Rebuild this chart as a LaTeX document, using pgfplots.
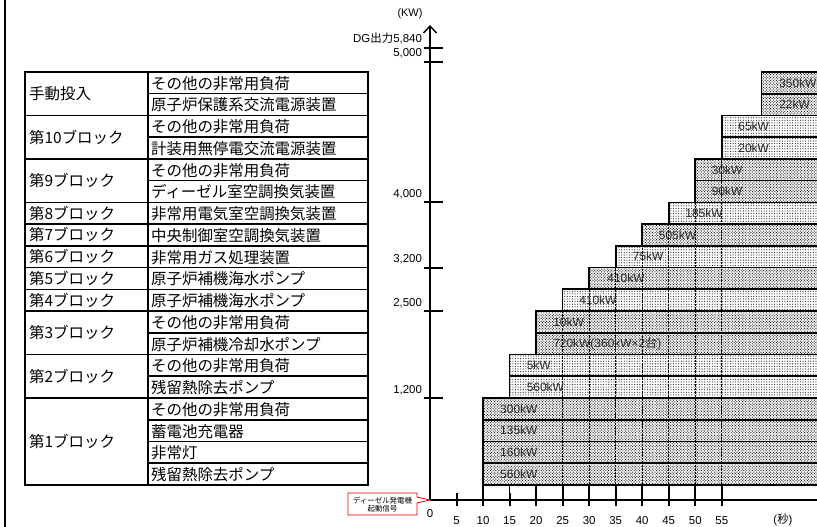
\documentclass[border=0pt]{standalone}
\usepackage{fontspec}
\setmainfont{Liberation Sans}
\newfontfamily\jp{Noto Sans CJK JP}
\usepackage{pgfplots}
\pgfplotsset{compat=1.18}
\usetikzlibrary{patterns.meta,arrows.meta}
\definecolor{callred}{RGB}{230,0,0}
\begin{document}
\begin{tikzpicture}
\pgfplotsset{base/.style={scale only axis,
  width=387bp, height=475bp, xmin=0, xmax=72.95, ymin=-0.191, ymax=21.66}}
% ---------- bars ----------
\begin{axis}[base, axis lines=none, xbar stacked, bar width=1, xtick=\empty, ytick=\empty]
\addplot[draw=none, fill=none] coordinates {(10,1) (10,2) (10,3) (10,4) (15,5) (15,6) (20,7) (20,8) (25,9) (30,10) (35,11) (40,12) (45,13) (50,14) (50,15) (55,16) (55,17) (62.5,18) (62.5,19)};
\addplot[draw=black, line width=1.7bp, pattern={Dots[distance=2pt,radius=0.7pt,angle=45]}, pattern color=black!85]
 coordinates {(70,1) (70,2) (70,3) (70,4) (0,5) (0,6) (60,7) (60,8) (0,9) (50,10) (0,11) (40,12) (0,13) (30,14) (30,15) (0,16) (0,17) (17.5,18) (17.5,19)};
\addplot[draw=black, line width=1.7bp, pattern={Dots[distance=2.6pt,radius=0.6pt]}, pattern color=black!85]
 coordinates {(0,1) (0,2) (0,3) (0,4) (65,5) (65,6) (0,7) (0,8) (55,9) (0,10) (45,11) (0,12) (35,13) (0,14) (0,15) (25,16) (25,17) (0,18) (0,19)};
\end{axis}
% ---------- axes, lines, labels ----------
\begin{axis}[base, clip mode=individual, axis lines=left,
  axis line style={line width=2.2bp, black},
  x axis line style={-},
  y axis line style={-{Straight Barb[length=7bp,width=13bp,line width=1.4bp]}},
  /pgf/number format/assume math mode=true,
  tick align=center, major tick length=13bp, tick style={line width=2bp, black},
  xtick={5,10,...,55}, xticklabels={5,10,15,20,25,30,35,40,45,50,55},
  extra x ticks={0}, extra x tick labels={0}, extra x tick style={major tick length=0pt},
  xticklabel style={font=\fontsize{11.5}{12}\selectfont, anchor=base, yshift=-18bp},
  ytick=\empty,
  extra y ticks={4.5,8.5,10.5,13.5,19.96,20.61},
  extra y tick labels={{1,200},{2,500},{3,200},{4,000},{5,000},{DG{\jp 出力}5,840}},
  extra y tick style={major tick length=19bp, tick style={xshift=3.5bp},
     yticklabel style={anchor=base east, yshift=5bp, xshift=5bp, font=\fontsize{11.5}{12}\selectfont}},
  ]
\addplot[line width=1.8bp, black, unbounded coords=jump, forget plot] coordinates {
 (10,-0.33) (10,0.5) (nan,nan) (15,-0.33) (15,0.5) (nan,nan) (20,-0.33) (20,0.5) (nan,nan)
 (25,-0.33) (25,0.5) (nan,nan) (30,-0.33) (30,0.5) (nan,nan) (35,-0.33) (35,0.5) (nan,nan)
 (40,-0.33) (40,0.5) (nan,nan) (45,-0.33) (45,0.5) (nan,nan) (50,-0.33) (50,0.5) (nan,nan)
 (55,-0.33) (55,0.5)};
\addplot[line width=1.3bp, black, dash pattern=on 2.5bp off 1bp, unbounded coords=jump, forget plot] coordinates {
 (25,0.5) (25,8.5) (nan,nan) (30,0.5) (30,9.5) (nan,nan) (35,0.5) (35,10.5) (nan,nan)
 (40,0.5) (40,11.5) (nan,nan) (45,0.5) (45,12.5) (nan,nan) (50,0.5) (50,13.5) (nan,nan)
 (55,0.5) (55,15.5)};
\addplot[draw=none, mark=none, nodes near coords, point meta=explicit symbolic,
  nodes near coords align=horizontal,
  every node near coord/.append style={anchor=west, inner sep=0pt, font=\fontsize{12}{12}\selectfont, text=black!85}]
 coordinates {(13.2,1) [560kW] (13.2,2) [160kW] (13.2,3) [135kW] (13.2,4) [300kW]
  (18.2,5) [560kW] (18.2,6) [5kW] (23.2,7) [720kW(360kW×2{\jp 台})] (23.2,8) [10kW]
  (28.1,9) [410kW] (33.4,10) [410kW] (38.2,11) [75kW] (43.1,12) [505kW] (48.1,13) [185kW]
  (53.1,14) [90kW] (53.1,15) [30kW] (58.1,16) [20kW] (58.1,17) [65kW]
  (65.8,18) [22kW] (65.8,19) [350kW]};
\end{axis}
\begin{scope}[x=1bp, y=1bp, shift={(-430bp,-27bp)}]
% ---------- frame line ----------
\draw[line width=2bp] (5,0) -- (5,527);
% ---------- table ----------
\begin{scope}[line width=1.6bp]
 \draw (25,42) rectangle (368,455.06);
 \draw (148,42) -- (148,455.06);
 \foreach \k in {4,6,8,9,10,11,12,13,15,17} \draw (25,{42+21.74*\k}) -- (368,{42+21.74*\k});
 \foreach \k in {1,2,3,5,7,14,16,18} \draw (148,{42+21.74*\k}) -- (368,{42+21.74*\k});
\end{scope}
\foreach \k/\t in {1/残留熱除去ポンプ,2/非常灯,3/蓄電池充電器,4/その他の非常用負荷,5/残留熱除去ポンプ,6/その他の非常用負荷,7/原子炉補機冷却水ポンプ,8/その他の非常用負荷,9/原子炉補機海水ポンプ,10/原子炉補機海水ポンプ,11/非常用ガス処理装置,12/中央制御室空調換気装置,13/非常用電気室空調換気装置,14/ディーゼル室空調換気装置,15/その他の非常用負荷,16/計装用無停電交流電源装置,17/その他の非常用負荷,18/原子炉保護系交流電源装置,19/その他の非常用負荷}
  \node[anchor=base west, inner sep=0pt, font=\jp\fontsize{15.5}{16}\selectfont] at (151,{42+21.74*(\k-1)+4.5}) {\t};
\foreach \y/\t in {85.48/第1ブロック,150.7/第2ブロック,194.18/第3ブロック,226.79/第4ブロック,248.53/第5ブロック,270.27/第6ブロック,292.01/第7ブロック,313.75/第8ブロック,346.36/第9ブロック,389.84/第10ブロック,433.32/手動投入}
  \node[anchor=west, inner sep=0pt, font=\jp\fontsize{15.5}{16}\selectfont] at (29,\y) {\t};
% ---------- axis annotations ----------
\node[font=\fontsize{11}{12}\selectfont] at (410,513) {(KW)};
\node[font=\fontsize{11.5}{12}\selectfont] at (783,7) {({\jp 秒})};
\draw[callred, line width=0.8bp, fill=white] (348,12) -- (348,34) -- (417,34) -- (417,30) -- (430,27) -- (417,24) -- (417,12) -- cycle;
\node[font=\jp\fontsize{7.5}{8}\selectfont, inner sep=0pt] at (382.5,26.5) {ディーゼル発電機};
\node[font=\jp\fontsize{7.5}{8}\selectfont, inner sep=0pt] at (382.5,18.5) {起動信号};
\pgfresetboundingbox
\useasboundingbox (0,0) rectangle (817,527);
\end{scope}
\end{tikzpicture}
\end{document}
